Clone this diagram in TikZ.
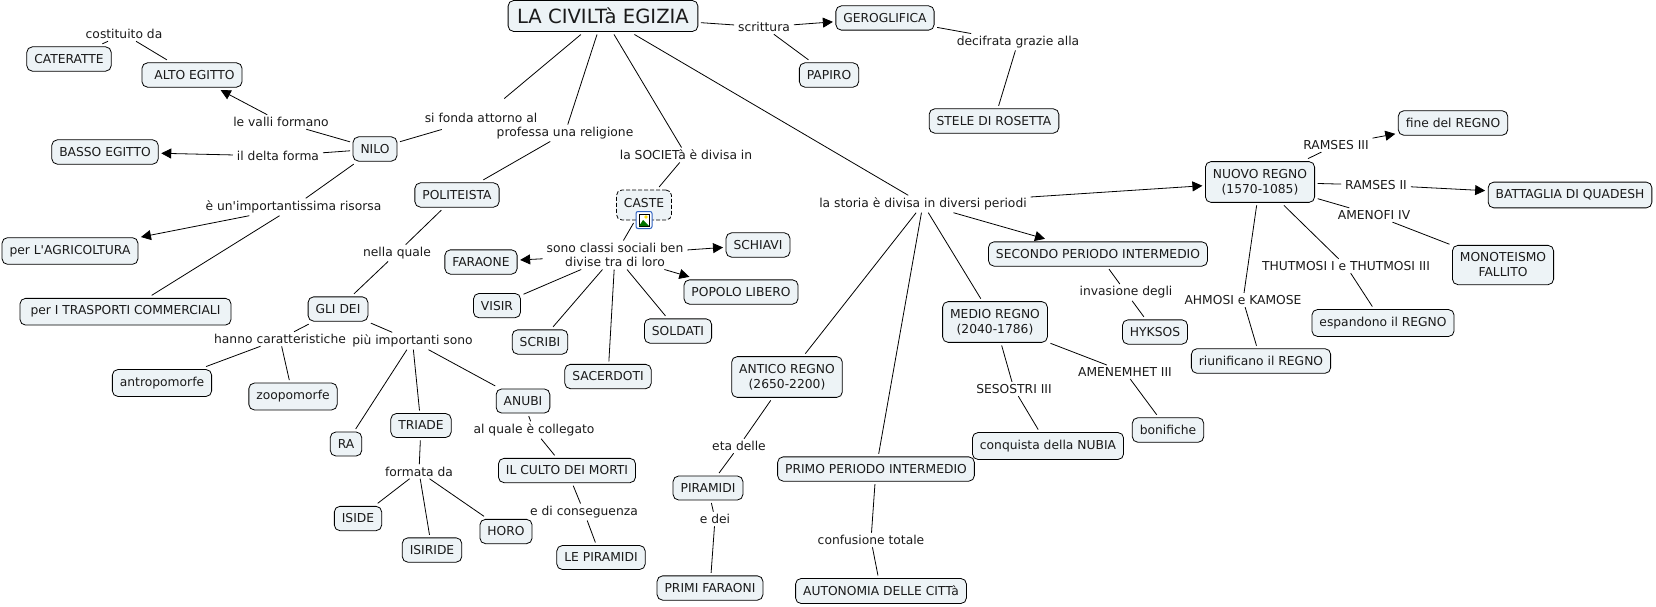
\documentclass[tikz,border=0pt]{standalone}
\usepackage{fontspec}
\setmainfont{DejaVu Sans}
\usetikzlibrary{arrows.meta}
\definecolor{boxfill}{HTML}{EDF3F6}
\definecolor{inktext}{HTML}{1A1A1A}
\definecolor{iconblue}{HTML}{2F62C0}
\tikzset{
  >={Triangle[length=10pt,width=10pt]},
  % concetti
  cn/.style={rectangle,rounded corners=5.5pt,draw=black,fill=boxfill,line width=0.8pt,
             inner xsep=7.5pt,inner ysep=7.5pt,outer sep=3pt,align=center,text=inktext,
             font=\fontsize{12.3}{15}\selectfont},
  tn/.style={cn,font=\fontsize{19.6}{22}\selectfont,inner xsep=9pt},
  dn/.style={cn,dash pattern=on 4pt off 2pt,text height=9pt,text depth=5pt,inner ysep=8pt},
  % frasi di collegamento
  ln/.style={inner sep=0pt,outer xsep=4pt,outer ysep=2.5pt,align=center,text=inktext,
             yshift=-1pt,font=\fontsize{12.3}{14.5}\selectfont},
  ce/.style={draw=black,line width=0.8pt},
  ca/.style={->,draw=black,line width=0.8pt},
}
\begin{document}
\begin{tikzpicture}[x=1pt,y=-1pt]
\useasboundingbox (0,0) rectangle (1656,607);
  % concetti
  \node[tn] (title) at (603,16) {LA CIVILTà EGIZIA};
  \node[cn] (gerog) at (885,18) {GEROGLIFICA};
  \node[cn] (papiro) at (829,75) {PAPIRO};
  \node[cn] (stele) at (994,121) {STELE DI ROSETTA};
  \node[cn] (cater) at (69,59) {CATERATTE};
  \node[cn] (alto) at (192,75) {\hspace{5pt}ALTO EGITTO};
  \node[cn] (basso) at (105,152) {BASSO EGITTO};
  \node[cn] (nilo) at (375,149) {NILO};
  \node[cn] (polit) at (457,195) {POLITEISTA};
  \node[cn] (agri) at (70,251) {per L\textquotesingle AGRICOLTURA};
  \node[cn,minimum width=211pt] (trasp) at (125.5,311.7) {per I TRASPORTI COMMERCIALI};
  \node[cn] (faraone) at (481,262) {FARAONE};
  \node[cn] (dei) at (338,309) {GLI DEI};
  \node[cn] (visir) at (497,305.6) {VISIR};
  \node[cn] (scribi) at (540,342) {SCRIBI};
  \node[cn] (sacer) at (608,376.5) {SACERDOTI};
  \node[cn] (soldati) at (678,331) {SOLDATI};
  \node[dn] (caste) at (644,205) {CASTE};
  \node[cn] (schiavi) at (758,245) {SCHIAVI};
  \node[cn] (popolo) at (741,292) {POPOLO LIBERO};
  \node[cn] (antro) at (162,383) {antropomorfe};
  \node[cn] (zoo) at (293,396.5) {zoopomorfe};
  \node[cn] (ra) at (346,444) {RA};
  \node[cn] (triade) at (421,425.5) {TRIADE};
  \node[cn] (anubi) at (523,401) {ANUBI};
  \node[cn] (culto) at (567,470.5) {IL CULTO DEI MORTI};
  \node[cn] (iside) at (358,518.5) {ISIDE};
  \node[cn] (isiride) at (432,550) {ISIRIDE};
  \node[cn] (horo) at (506,531.5) {HORO};
  \node[cn] (lepir) at (601,557.5) {LE PIRAMIDI};
  \node[cn] (pirami) at (708,488) {PIRAMIDI};
  \node[cn] (primif) at (710,588) {PRIMI FARAONI};
  \node[cn] (antico) at (787,377) {ANTICO REGNO\\(2650-2200)};
  \node[cn] (primo) at (876,469) {PRIMO PERIODO INTERMEDIO};
  \node[cn] (autono) at (881,591) {AUTONOMIA DELLE CITTà};
  \node[cn] (medio) at (995,322) {MEDIO REGNO\\(2040-1786)};
  \node[cn] (nubia) at (1048,446) {conquista della NUBIA};
  \node[cn] (bonif) at (1168,430) {bonifiche};
  \node[cn] (secondo) at (1098,254) {SECONDO PERIODO INTERMEDIO};
  \node[cn] (hyksos) at (1155,332) {HYKSOS};
  \node[cn] (nuovo) at (1260,182) {NUOVO REGNO\\(1570-1085)};
  \node[cn] (fine) at (1453,123) {fine del REGNO};
  \node[cn] (quadesh) at (1570,195) {BATTAGLIA DI QUADESH};
  \node[cn] (monot) at (1503,265) {MONOTEISMO\\FALLITO};
  \node[cn] (espand) at (1383,323) {espandono il REGNO};
  \node[cn] (riunif) at (1261,361) {riunificano il REGNO};
  % frasi
  \node[ln] (lcost) at (124,33) {costituito da};
  \node[ln] (lvalli) at (281,121) {le valli formano};
  \node[ln] (ldelta) at (278,155) {il delta forma};
  \node[ln] (lrisorsa) at (293.5,206) {è un\textquotesingle importantissima risorsa};
  \node[ln] (lfonda) at (481,117) {si fonda attorno al};
  \node[ln] (lprof) at (565,132) {professa una religione};
  \node[ln] (lnella) at (397,252) {nella quale};
  \node[ln] (lsoc) at (686,154) {la SOCIETà è divisa in};
  \node[ln] (lclassi) at (615,254) {sono classi sociali ben\\divise tra di loro};
  \node[ln] (lscritt) at (764,26) {scrittura};
  \node[ln] (ldecif) at (1018,41) {decifrata grazie alla};
  \node[ln] (lstoria) at (923,203) {la storia è divisa in diversi periodi};
  \node[ln] (lcarat) at (280,338) {hanno caratteristiche};
  \node[ln] (lpiu) at (412.5,340) {più importanti sono};
  \node[ln] (lquale) at (534,429) {al quale è collegato};
  \node[ln] (lformata) at (419,470.5) {formata da};
  \node[ln] (lconseg) at (584,511) {e di conseguenza};
  \node[ln] (leta) at (739,445) {eta delle};
  \node[ln] (ledei) at (715,518) {e dei};
  \node[ln] (lconf) at (871,539) {confusione totale};
  \node[ln] (lsesos) at (1014,388) {SESOSTRI III};
  \node[ln] (lamen) at (1125,371) {AMENEMHET III};
  \node[ln] (linvas) at (1126,291.5) {invasione degli};
  \node[ln] (lram3) at (1336,144) {RAMSES III};
  \node[ln] (lram2) at (1376,184) {RAMSES II};
  \node[ln] (lameno) at (1374,214) {AMENOFI IV};
  \node[ln] (lthut) at (1346,265) {THUTMOSI I e THUTMOSI III};
  \node[ln] (lahm) at (1243,299) {AHMOSI e KAMOSE};
  % nilo
  \draw[ce,shorten >=19pt] (title) -- (lfonda);
  \draw[ce,shorten >=15pt] (nilo) -- (lfonda);
  \draw[ce] (nilo) -- (lvalli);
  \draw[ca] (lvalli) -- (alto);
  \draw[ce] (nilo) -- (ldelta);
  \draw[ca] (ldelta) -- (basso);
  \draw[ce] (nilo) -- (lrisorsa);
  \draw[ca] (lrisorsa) -- (agri);
  \draw[ce] (lrisorsa) -- (trasp);
  \draw[ce] (alto) -- (lcost);
  \draw[ce] (lcost) -- (cater);
  % religione
  \draw[ce] (title) -- (lprof);
  \draw[ce] (lprof) -- (polit);
  \draw[ce] (polit) -- (lnella);
  \draw[ce] (lnella) -- (dei);
  \draw[ce] (dei) -- (lcarat);
  \draw[ce] (lcarat) -- (antro);
  \draw[ce] (lcarat) -- (zoo);
  \draw[ce] (dei) -- (lpiu);
  \draw[ce] (lpiu) -- (ra);
  \draw[ce] (lpiu) -- (triade);
  \draw[ce] (lpiu) -- (anubi);
  \draw[ce] (anubi) -- (lquale);
  \draw[ce] (lquale) -- (culto);
  \draw[ce] (culto) -- (lconseg);
  \draw[ce] (lconseg) -- (lepir);
  \draw[ce] (triade) -- (lformata);
  \draw[ce] (lformata) -- (iside);
  \draw[ce] (lformata) -- (isiride);
  \draw[ce] (lformata) -- (horo);
  % societa
  \draw[ce] (title) -- (lsoc);
  \draw[ce] (lsoc) -- (caste);
  \draw[ce] (caste) -- (lclassi);
  \draw[ca] (lclassi) -- (faraone);
  \draw[ca] (lclassi) -- (schiavi);
  \draw[ca] (lclassi) -- (popolo);
  \draw[ce] (lclassi) -- (visir);
  \draw[ce] (lclassi) -- (scribi);
  \draw[ce] (lclassi) -- (sacer);
  \draw[ce] (lclassi) -- (soldati);
  % scrittura
  \draw[ce] (title) -- (lscritt);
  \draw[ca] (lscritt) -- (gerog);
  \draw[ce] (lscritt) -- (papiro);
  \draw[ce] (gerog) -- (ldecif);
  \draw[ce] (ldecif) -- (stele);
  % storia
  \draw[ce] (title) -- (lstoria);
  \draw[ca] (lstoria) -- (nuovo);
  \draw[ca] (lstoria) -- (secondo);
  \draw[ce] (lstoria) -- (antico);
  \draw[ce] (lstoria) -- (primo);
  \draw[ce] (lstoria) -- (medio);
  \draw[ce] (antico) -- (leta);
  \draw[ce] (leta) -- (pirami);
  \draw[ce] (pirami) -- (ledei);
  \draw[ce] (ledei) -- (primif);
  \draw[ce] (primo) -- (lconf);
  \draw[ce] (lconf) -- (autono);
  \draw[ce] (medio) -- (lsesos);
  \draw[ce] (lsesos) -- (nubia);
  \draw[ce] (medio) -- (lamen);
  \draw[ce] (lamen) -- (bonif);
  \draw[ce] (secondo) -- (linvas);
  \draw[ce] (linvas) -- (hyksos);
  \draw[ce] (nuovo) -- (lram3);
  \draw[ca] (lram3) -- (fine);
  \draw[ce] (nuovo) -- (lram2);
  \draw[ca] (lram2) -- (quadesh);
  \draw[ce] (nuovo) -- (lameno);
  \draw[ce] (lameno) -- (monot);
  \draw[ce] (nuovo) -- (lthut);
  \draw[ce] (lthut) -- (espand);
  \draw[ce] (nuovo) -- (lahm);
  \draw[ce] (lahm) -- (riunif);
  % icona su CASTE
  \node[rectangle,rounded corners=2pt,draw=iconblue,fill=white,line width=1pt,minimum width=16pt,minimum height=17pt,inner sep=0pt] (icon) at (644,220) {};
  \fill[white,draw=black,line width=0.6pt] ([shift={(-5,-6)}]icon.center) rectangle ([shift={(5,6)}]icon.center);
  \fill[yellow!80!orange] ([shift={(2,-3)}]icon.center) circle (1.8);
  \fill[green!45!black] ([shift={(-5,6)}]icon.center) -- ([shift={(-1,0)}]icon.center) -- ([shift={(5,6)}]icon.center) -- cycle;
\end{tikzpicture}
\end{document}
